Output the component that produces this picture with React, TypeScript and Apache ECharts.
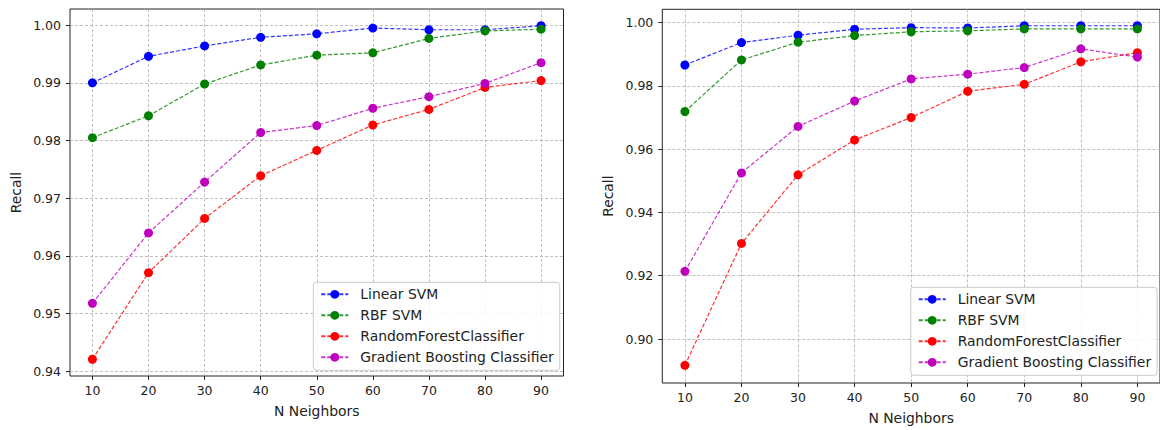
import React, { useEffect, useRef } from "react";
import * as echarts from "echarts";

const neighbors = [10, 20, 30, 40, 50, 60, 70, 80, 90];
const seriesNames = ["Linear SVM", "RBF SVM", "RandomForestClassifier", "Gradient Boosting Classifier"];
const seriesColors = ["#0000ff", "#008000", "#ff0000", "#bf00bf"];

// Left panel
const linearSvmA = [0.9900, 0.9946, 0.9964, 0.9979, 0.9985, 0.9995, 0.9992, 0.9992, 0.9999];
const rbfSvmA = [0.9805, 0.9843, 0.9898, 0.9931, 0.9948, 0.9952, 0.9977, 0.9990, 0.9993];
const randomForestA = [0.9421, 0.9571, 0.9665, 0.9739, 0.9783, 0.9827, 0.9854, 0.9892, 0.9904];
const gradientBoostA = [0.9518, 0.9640, 0.9728, 0.9814, 0.9826, 0.9856, 0.9876, 0.9899, 0.9935];

// Right panel
const linearSvmB = [0.9866, 0.9937, 0.9960, 0.9979, 0.9984, 0.9983, 0.9990, 0.9990, 0.9990];
const rbfSvmB = [0.9719, 0.9882, 0.9938, 0.9959, 0.9971, 0.9974, 0.9980, 0.9980, 0.9980];
const randomForestB = [0.8917, 0.9302, 0.9519, 0.9629, 0.9700, 0.9783, 0.9805, 0.9876, 0.9905];
const gradientBoostB = [0.9214, 0.9525, 0.9672, 0.9752, 0.9822, 0.9837, 0.9858, 0.9917, 0.9891];

const yTicksA = [0.94, 0.95, 0.96, 0.97, 0.98, 0.99, 1.0];
const yTicksB = [0.9, 0.92, 0.94, 0.96, 0.98, 1.0];
const xTicks = [10, 20, 30, 40, 50, 60, 70, 80, 90];

const FONT = "DejaVu Sans";
const TEXT = "#222";
const TICK_FS = 12.5;
const NAME_FS = 13.9;

function makeXAxis(gridIndex: number) {
  return {
    type: "value",
    gridIndex,
    min: 6,
    max: 94,
    name: "N Neighbors",
    nameLocation: "middle",
    nameGap: 28,
    nameTextStyle: { fontFamily: FONT, fontSize: NAME_FS, color: TEXT },
    axisLine: { show: false },
    axisTick: { show: true, inside: false, length: 4, customValues: xTicks, lineStyle: { color: TEXT } },
    axisLabel: { customValues: xTicks, margin: 8, fontFamily: FONT, fontSize: TICK_FS, color: TEXT },
    splitLine: { show: true, lineStyle: { color: "#b0b0b0", type: [3, 2], width: 0.8 } },
  };
}

function makeYAxis(gridIndex: number, min: number, max: number, ticks: number[]) {
  return {
    type: "value",
    gridIndex,
    min,
    max,
    name: "Recall",
    nameLocation: "middle",
    nameGap: 47,
    nameTextStyle: { fontFamily: FONT, fontSize: NAME_FS, color: TEXT },
    axisLine: { show: false },
    axisTick: { show: true, inside: false, length: 4, customValues: ticks, lineStyle: { color: TEXT } },
    axisLabel: {
      customValues: ticks,
      margin: 9,
      fontFamily: FONT,
      fontSize: TICK_FS,
      color: TEXT,
      formatter: (v: number) => v.toFixed(2),
    },
    splitLine: { show: true, lineStyle: { color: "#b0b0b0", type: [3, 2], width: 0.8 } },
  };
}

function makeSeries(name: string, color: string, values: number[], idx: number) {
  return {
    type: "line",
    name,
    xAxisIndex: idx,
    yAxisIndex: idx,
    data: neighbors.map((x, i) => [x, values[i]]),
    symbol: "circle",
    symbolSize: 9,
    showSymbol: true,
    itemStyle: { color },
    lineStyle: { color, width: 1.2, type: [4, 2], opacity: 0.8 },
    emphasis: { disabled: true },
  };
}

function makeLegend(left: number, top: number) {
  return {
    orient: "vertical",
    left,
    top,
    data: seriesNames,
    itemWidth: 27,
    itemHeight: 11,
    itemGap: 7,
    padding: [5, 6, 6, 7],
    backgroundColor: "rgba(255,255,255,0.85)",
    borderColor: "#cccccc",
    borderWidth: 1,
    borderRadius: 3,
    selectedMode: false,
    textStyle: { fontFamily: FONT, fontSize: NAME_FS, color: TEXT, padding: [0, 0, 0, 7] },
  };
}

export default function App() {
  const ref = useRef<HTMLDivElement>(null);
  useEffect(() => {
    if (!ref.current) return;
    const chart = echarts.init(ref.current, undefined, { renderer: "svg" });
    const aData = [linearSvmA, rbfSvmA, randomForestA, gradientBoostA];
    const bData = [linearSvmB, rbfSvmB, randomForestB, gradientBoostB];
    chart.setOption({
      animation: false,
      backgroundColor: "#ffffff",
      textStyle: { fontFamily: FONT },
      grid: [
        { left: 70, top: 9, width: 493.5, height: 367, show: true, borderColor: TEXT, borderWidth: 1, backgroundColor: "transparent" },
        { left: 662.3, top: 9.3, width: 502, height: 374.7, show: true, borderColor: TEXT, borderWidth: 1, backgroundColor: "transparent" },
      ],
      xAxis: [makeXAxis(0), makeXAxis(1)],
      yAxis: [makeYAxis(0, 0.9392, 1.0028, yTicksA), makeYAxis(1, 0.8861, 1.0042, yTicksB)],
      legend: [makeLegend(313.3, 282.3), makeLegend(910.7, 287.3)],
      series: [
        ...seriesNames.map((n, i) => makeSeries(n, seriesColors[i], aData[i], 0)),
        ...seriesNames.map((n, i) => makeSeries(n, seriesColors[i], bData[i], 1)),
      ],
    });
    return () => chart.dispose();
  }, []);
  return (
    <div
      ref={ref}
      style={{ position: "absolute", left: 0, top: 0, width: 1160, height: 430 }}
    />
  );
}
